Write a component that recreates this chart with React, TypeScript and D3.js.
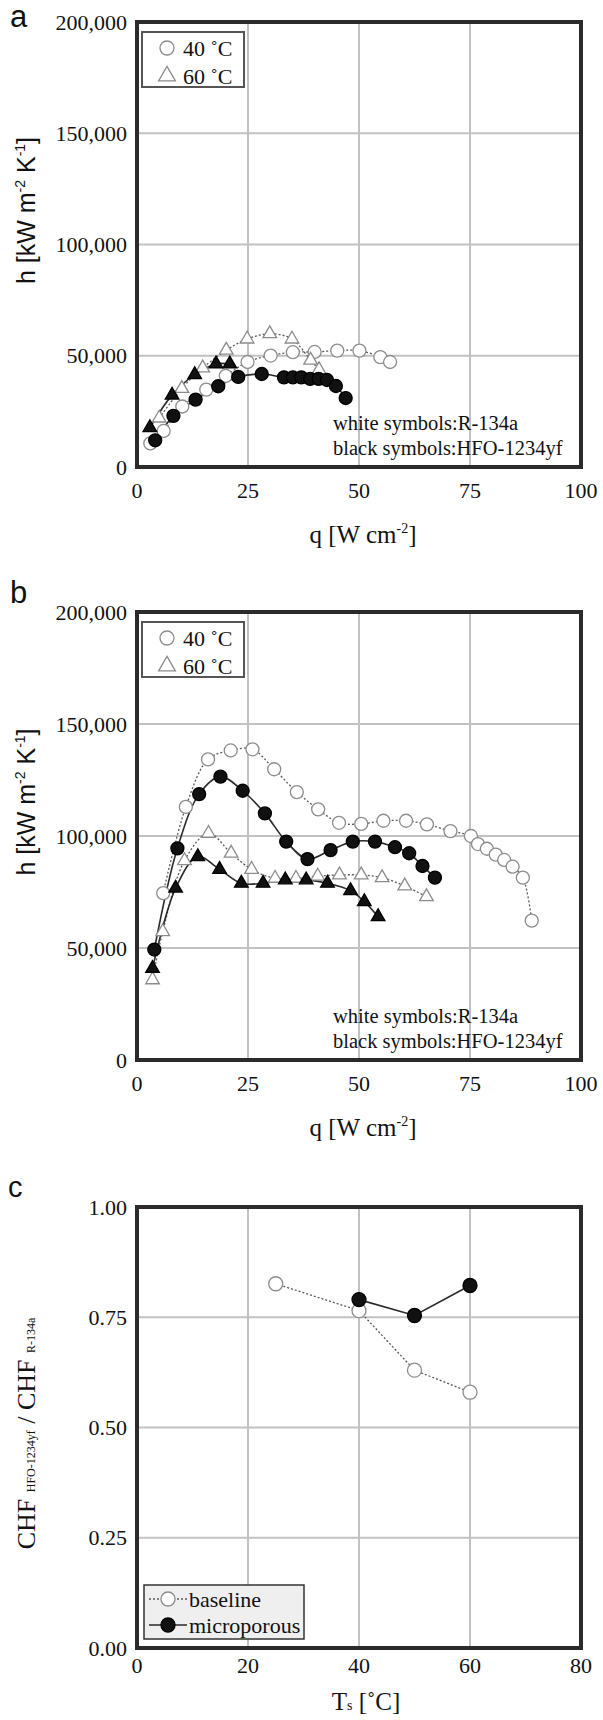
import React from "react";
import * as d3 from "d3";

const serif = "'Liberation Serif', 'Times New Roman', serif";
const sans = "'Liberation Sans', Arial, sans-serif";

// axis ticks
const qTicks = [0, 25, 50, 75, 100];
const hTicks = [0, 50000, 100000, 150000, 200000];
const tsTicks = [0, 20, 40, 60, 80];
const ratioTicks = [0, 0.25, 0.5, 0.75, 1.0];

// panel a : baseline surface
const aR134a40q = [3, 6, 10.2, 15.6, 20, 24.9, 30.1, 35.1, 40, 45.1, 50.1, 54.8, 57];
const aR134a40h = [10600, 16200, 27200, 34800, 41000, 47200, 50100, 51600, 51700, 52300, 52300, 49400, 47200];
const aR134a60q = [5, 10.1, 14.8, 20.1, 24.8, 29.9, 34.9, 39.1, 41];
const aR134a60h = [22000, 35300, 44500, 52500, 57500, 59900, 57500, 48000, 43700];
const aHfo40q = [4.1, 8.2, 13.2, 18.3, 22.8, 28.1, 33.1, 35.1, 37, 39, 40.9, 42.8, 44.8, 47];
const aHfo40h = [12000, 23000, 30300, 36300, 40500, 41800, 40300, 40300, 40300, 39600, 39600, 39100, 36400, 31000];
const aHfo60q = [2.9, 7.9, 13, 17.8, 20.9];
const aHfo60h = [17700, 32300, 41500, 46300, 46300];

// panel b : microporous surface
const bR134a40q = [5.9, 11, 16, 21.1, 26, 30.9, 36, 40.8, 45.5, 50.5, 55.5, 60.6, 65.3, 70.6, 75.2, 76.8, 78.8, 80.8, 82.7, 84.6, 86.9, 88.9];
const bR134a40h = [74500, 113000, 134200, 138200, 138700, 129800, 119600, 111900, 105900, 105400, 106800, 106800, 105200, 102200, 100000, 96400, 94300, 91700, 89300, 86300, 81400, 62200];
const bR134a60q = [3.5, 5.8, 10.7, 16.1, 21.2, 25.8, 31.1, 35.8, 40.7, 45.6, 50.5, 55.2, 60.3, 65.2];
const bR134a60h = [35800, 57300, 89000, 101200, 92300, 85100, 81100, 81100, 82100, 82600, 82600, 81400, 77700, 72900];
const bHfo40q = [3.9, 9.1, 14, 18.8, 23.8, 28.8, 33.6, 38.4, 43.6, 48.6, 53.6, 58.1, 61.3, 64.3, 67.1];
const bHfo40h = [49300, 94500, 118700, 126500, 120200, 110100, 97500, 89700, 93700, 97500, 97500, 95000, 92300, 86600, 81400];
const bHfo60q = [3.5, 8.7, 13.7, 18.6, 23.5, 28.4, 33.4, 38.1, 42.9, 48.1, 51.2, 54.3];
const bHfo60h = [40900, 76700, 90800, 85100, 78900, 78900, 80400, 80400, 78900, 75600, 70700, 64000];

// panel c : CHF ratio
const cBaselineTs = [25, 40, 50, 60];
const cBaselineRatio = [0.826, 0.765, 0.63, 0.58];
const cMicroTs = [40, 50, 60];
const cMicroRatio = [0.79, 0.754, 0.822];

const plotLeft = 137;
const plotRight = 581;

const whiteStroke = "#8c8c8c";
const dotted = "#5a5a5a";

type Series = { xs: number[]; ys: number[]; shape: "circle" | "triangle"; black: boolean };

const pairs = (s: Series) => s.xs.map((x, i) => [x, s.ys[i]] as [number, number]);

function Marker({ x, y, shape, black, r = 6.5 }: { x: number; y: number; shape: string; black: boolean; r?: number }) {
  const fill = black ? "#111" : "#fff";
  const stroke = black ? "#000" : whiteStroke;
  if (shape === "circle") {
    return <circle cx={x} cy={y} r={r} fill={fill} stroke={stroke} strokeWidth={1.3} />;
  }
  const path = d3.symbol(d3.symbolTriangle, r * r * 1.9)()!;
  return <path d={path} transform={`translate(${x},${y})`} fill={fill} stroke={stroke} strokeWidth={1.3} />;
}

function Frame({
  x, y, xTicks, yTicks, yFmt, xLabelGap,
}: {
  x: d3.ScaleLinear<number, number>;
  y: d3.ScaleLinear<number, number>;
  xTicks: number[];
  yTicks: number[];
  yFmt: (v: number) => string;
  xLabelGap: number;
}) {
  const [x0, x1] = x.range();
  const [y0, y1] = y.range();
  return (
    <g>
      {xTicks.slice(1, -1).map((t) => (
        <line key={"gx" + t} x1={x(t)} x2={x(t)} y1={y1} y2={y0} stroke="#c2c2c2" strokeWidth={2} />
      ))}
      {yTicks.slice(1, -1).map((t) => (
        <line key={"gy" + t} x1={x0} x2={x1} y1={y(t)} y2={y(t)} stroke="#c2c2c2" strokeWidth={2} />
      ))}
      <rect x={x0} y={y1} width={x1 - x0} height={y0 - y1} fill="none" stroke="#2b2b2b" strokeWidth={4} />
      {yTicks.map((t) => (
        <text key={"ty" + t} x={x0 - 10} y={y(t)} dy="0.35em" textAnchor="end" fontFamily={serif} fontSize={22} fill="#111">
          {yFmt(t)}
        </text>
      ))}
      {xTicks.map((t) => (
        <text key={"tx" + t} x={x(t)} y={y0 + xLabelGap} textAnchor="middle" fontFamily={serif} fontSize={22} fill="#111">
          {t}
        </text>
      ))}
    </g>
  );
}

function HPanel({ top, bottom, letter, letterY, series }: { top: number; bottom: number; letter: string; letterY: number; series: Series[] }) {
  const x = d3.scaleLinear().domain([0, 100]).range([plotLeft, plotRight]);
  const y = d3.scaleLinear().domain([0, 200000]).range([bottom, top]);
  const line = d3
    .line<[number, number]>()
    .x((d) => x(d[0]))
    .y((d) => y(d[1]))
    .curve(d3.curveCatmullRom.alpha(0.5));
  const mid = (top + bottom) / 2;
  return (
    <g>
      <text x={10} y={letterY} fontFamily={sans} fontSize={31} fill="#111">
        {letter}
      </text>
      <Frame x={x} y={y} xTicks={qTicks} yTicks={hTicks} yFmt={d3.format(",")} xLabelGap={31} />
      {series.map((s, i) => (
        <path
          key={"l" + i}
          d={line(pairs(s))!}
          fill="none"
          stroke={s.black ? "#2a2a2a" : dotted}
          strokeWidth={s.black ? 1.6 : 1.3}
          strokeDasharray={s.black ? undefined : "2,2"}
        />
      ))}
      {series.map((s, i) =>
        pairs(s).map((d, j) => <Marker key={i + "-" + j} x={x(d[0])} y={y(d[1])} shape={s.shape} black={s.black} />)
      )}
      {/* legend */}
      <rect x={142} y={top + 10} width={102} height={55} fill="#fff" stroke="#555" strokeWidth={2} />
      <Marker x={167} y={top + 26} shape="circle" black={false} r={7} />
      <Marker x={167} y={top + 54} shape="triangle" black={false} r={8} />
      <text x={183} y={top + 26} dy="0.35em" fontFamily={serif} fontSize={22} fill="#111">40 ˚C</text>
      <text x={183} y={top + 54} dy="0.35em" fontFamily={serif} fontSize={22} fill="#111">60 ˚C</text>
      {/* annotation */}
      <text x={333} y={bottom - 37} fontFamily={serif} fontSize={20.5} fill="#111">white symbols:R-134a</text>
      <text x={333} y={bottom - 12} fontFamily={serif} fontSize={20.5} fill="#111">black symbols:HFO-1234yf</text>
      {/* axis titles */}
      <text transform={`translate(35,${mid - 34}) rotate(-90)`} textAnchor="middle" fontFamily={sans} fontSize={25} fill="#111">
        h [kW m<tspan fontSize={14} dy={-10}>-2</tspan>
        <tspan dy={10}> K</tspan>
        <tspan fontSize={14} dy={-10}>-1</tspan>
        <tspan dy={10}>]</tspan>
      </text>
      <text x={363} y={bottom + 76} textAnchor="middle" fontFamily={serif} fontSize={25} fill="#111">
        q [W cm<tspan fontSize={14} dy={-10}>-2</tspan>
        <tspan dy={10}>]</tspan>
      </text>
    </g>
  );
}

function CPanel({ top, bottom }: { top: number; bottom: number }) {
  const x = d3.scaleLinear().domain([0, 80]).range([plotLeft, plotRight]);
  const y = d3.scaleLinear().domain([0, 1]).range([bottom, top]);
  const line = d3
    .line<[number, number]>()
    .x((d) => x(d[0]))
    .y((d) => y(d[1]));
  const base: Series = { xs: cBaselineTs, ys: cBaselineRatio, shape: "circle", black: false };
  const micro: Series = { xs: cMicroTs, ys: cMicroRatio, shape: "circle", black: true };
  const mid = (top + bottom) / 2;
  return (
    <g>
      <text x={8} y={top - 10} fontFamily={sans} fontSize={29} fill="#111">c</text>
      <Frame x={x} y={y} xTicks={tsTicks} yTicks={ratioTicks} yFmt={d3.format(".2f")} xLabelGap={25} />
      <path d={line(pairs(base))!} fill="none" stroke={dotted} strokeWidth={1.3} strokeDasharray="2,2" />
      <path d={line(pairs(micro))!} fill="none" stroke="#2a2a2a" strokeWidth={1.6} />
      {pairs(base).map((d, j) => (
        <Marker key={"b" + j} x={x(d[0])} y={y(d[1])} shape="circle" black={false} r={7} />
      ))}
      {pairs(micro).map((d, j) => (
        <Marker key={"m" + j} x={x(d[0])} y={y(d[1])} shape="circle" black={true} r={7} />
      ))}
      {/* legend */}
      <rect x={144} y={bottom - 63} width={160} height={54} fill="#efefef" stroke="#333" strokeWidth={1.5} />
      <line x1={149} x2={187} y1={bottom - 49} y2={bottom - 49} stroke={dotted} strokeWidth={1.3} strokeDasharray="2,2" />
      <Marker x={168} y={bottom - 49} shape="circle" black={false} r={7} />
      <text x={189} y={bottom - 49} dy="0.35em" fontFamily={serif} fontSize={22} fill="#111">baseline</text>
      <line x1={149} x2={187} y1={bottom - 23} y2={bottom - 23} stroke="#2a2a2a" strokeWidth={1.6} />
      <Marker x={168} y={bottom - 23} shape="circle" black={true} r={7} />
      <text x={189} y={bottom - 23} dy="0.35em" fontFamily={serif} fontSize={22} fill="#111">microporous</text>
      {/* axis titles */}
      <text transform={`translate(35,${mid + 6}) rotate(-90)`} textAnchor="middle" fontFamily={serif} fontSize={26} fill="#111">
        CHF <tspan fontSize={12}>HFO-1234yf</tspan>
        <tspan> / CHF </tspan>
        <tspan fontSize={12}>R-134a</tspan>
      </text>
      <text x={366} y={bottom + 62} textAnchor="middle" fontFamily={serif} fontSize={25} fill="#111">
        T<tspan fontSize={14}>s</tspan>
        <tspan> [˚C]</tspan>
      </text>
    </g>
  );
}

export default function App() {
  const aSeries: Series[] = [
    { xs: aR134a40q, ys: aR134a40h, shape: "circle", black: false },
    { xs: aR134a60q, ys: aR134a60h, shape: "triangle", black: false },
    { xs: aHfo40q, ys: aHfo40h, shape: "circle", black: true },
    { xs: aHfo60q, ys: aHfo60h, shape: "triangle", black: true },
  ];
  const bSeries: Series[] = [
    { xs: bR134a40q, ys: bR134a40h, shape: "circle", black: false },
    { xs: bR134a60q, ys: bR134a60h, shape: "triangle", black: false },
    { xs: bHfo40q, ys: bHfo40h, shape: "circle", black: true },
    { xs: bHfo60q, ys: bHfo60h, shape: "triangle", black: true },
  ];
  return (
    <svg width={603} height={1720} style={{ position: "absolute", left: 0, top: 0, background: "#fff" }}>
      <rect width={603} height={1720} fill="#fff" />
      <HPanel top={22} bottom={467} letter="a" letterY={27} series={aSeries} />
      <HPanel top={612} bottom={1060} letter="b" letterY={603} series={bSeries} />
      <CPanel top={1207} bottom={1648} />
    </svg>
  );
}
